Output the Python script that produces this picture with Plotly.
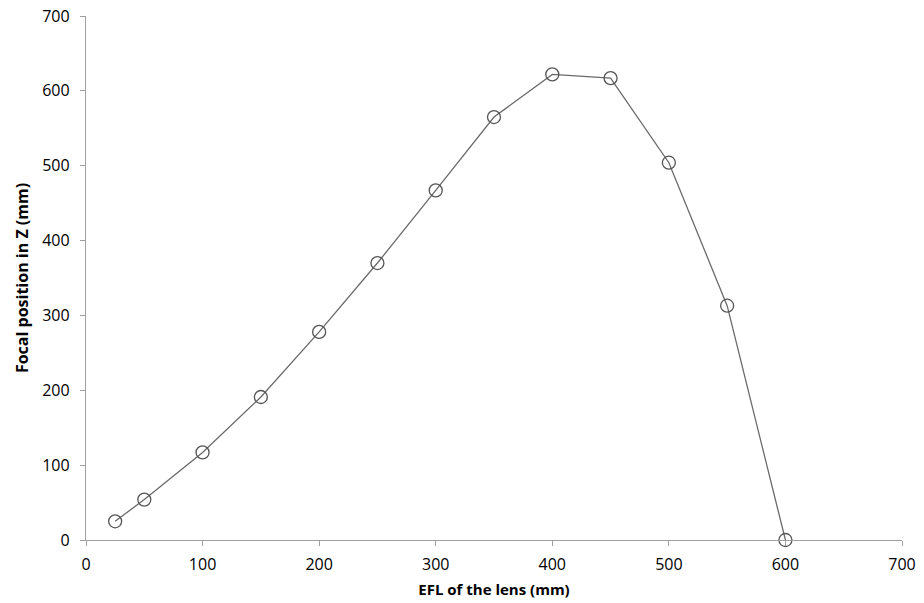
import plotly.graph_objects as go

efl = [25, 50, 100, 150, 200, 250, 300, 350, 400, 450, 500, 550, 600]
focal_z = [25, 54, 117, 191, 278, 370, 467, 565, 622, 617, 504, 313, 0]

x_title = "EFL of the lens (mm)"
y_title = "Focal position in Z (mm)"

fig = go.Figure()
fig.add_trace(go.Scatter(
    x=efl, y=focal_z, mode="lines+markers",
    line=dict(color="#6a6a6a", width=1.3),
    marker=dict(symbol="circle-open", size=13, color="#555555", line=dict(width=1.3, color="#555555")),
    cliponaxis=False,
))

fam = "Open Sans, Noto Sans, sans-serif"
axis_common = dict(
    showgrid=False, zeroline=False, showline=True, linecolor="#a0a0a0", linewidth=1.3,
    ticks="outside", ticklen=5, tickcolor="#a0a0a0", tickwidth=1.3,
    tickfont=dict(family=fam, size=16, color="#000000"),
    automargin=False,
)
fig.update_xaxes(range=[0, 700], dtick=100, tick0=0, ticklabelstandoff=5,
                 title=dict(text="<b>" + x_title + "</b>", font=dict(family=fam, size=15, color="#000"), standoff=10),
                 **axis_common)
fig.update_yaxes(range=[0, 700], dtick=100, tick0=0, ticklabelstandoff=7,
                 title=dict(text="<b>" + y_title + "</b>", font=dict(family=fam, size=16, color="#000"), standoff=9),
                 **axis_common)
fig.update_layout(
    width=924, height=603,
    margin=dict(l=86, r=22, t=16, b=63),
    paper_bgcolor="white", plot_bgcolor="white",
    showlegend=False, font=dict(family=fam, size=16, color="#000"),
)
fig.write_html("out.html")
